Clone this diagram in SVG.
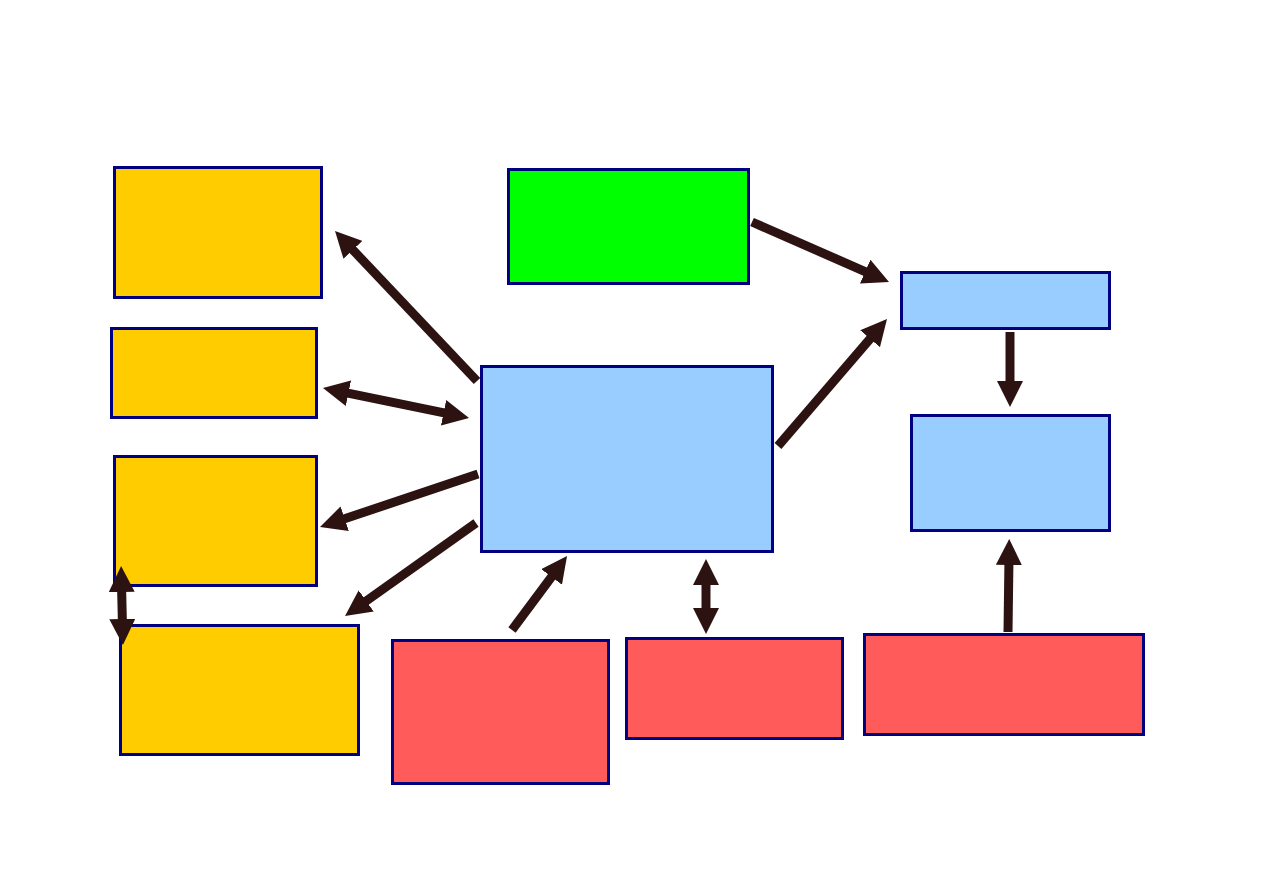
<svg xmlns="http://www.w3.org/2000/svg" width="1263" height="893" viewBox="0 0 1263 893">
<style>
.box{stroke:#000080;stroke-width:3}
.y{fill:#FFCC00}.g{fill:#00FF00}.b{fill:#99CCFF}.r{fill:#FF5B5B}
.c{stroke:#2C1210;stroke-width:9;fill:none;marker-end:url(#ah)}
.d{marker-start:url(#ah)}
</style>
<defs>
<marker id="ah" markerUnits="userSpaceOnUse" markerWidth="26" markerHeight="26" viewBox="0 0 26 26" refX="8" refY="13" orient="auto-start-reverse">
<path d="M0,0 L26,13 L0,26 z" fill="#2C1210"/>
</marker>
</defs>
<rect width="1263" height="893" fill="#fff"/>
<g id="y1"><rect class="box y" x="114.5" y="167.5" width="207" height="130"/></g>
<g id="y2"><rect class="box y" x="111.5" y="328.5" width="205" height="89"/></g>
<g id="y3"><rect class="box y" x="114.5" y="456.5" width="202" height="129"/></g>
<g id="y4"><rect class="box y" x="120.5" y="625.5" width="238" height="129"/></g>
<g id="green"><rect class="box g" x="508.5" y="169.5" width="240" height="114"/></g>
<g id="center"><rect class="box b" x="481.5" y="366.5" width="291" height="185"/></g>
<g id="b1"><rect class="box b" x="901.5" y="272.5" width="208" height="56"/></g>
<g id="b2"><rect class="box b" x="911.5" y="415.5" width="198" height="115"/></g>
<g id="r1"><rect class="box r" x="392.5" y="640.5" width="216" height="143"/></g>
<g id="r2"><rect class="box r" x="626.5" y="638.5" width="216" height="100"/></g>
<g id="r3"><rect class="box r" x="864.5" y="634.5" width="279" height="100"/></g>
<g id="connectors">
<line class="c" x1="477" y1="381" x2="347.4" y2="244.1"/>
<line class="c d" x1="340.6" y1="391.6" x2="451.4" y2="414.4"/>
<line class="c" x1="478" y1="474" x2="337.1" y2="521.3"/>
<line class="c" x1="476" y1="523" x2="359.7" y2="605.6"/>
<line class="c d" x1="121.5" y1="584" x2="122.5" y2="627"/>
<line class="c" x1="752" y1="222" x2="872.5" y2="274.8"/>
<line class="c" x1="778" y1="446" x2="875.3" y2="332.7"/>
<line class="c" x1="1010" y1="332" x2="1010" y2="389"/>
<line class="c" x1="1008" y1="632" x2="1009" y2="557"/>
<line class="c" x1="512" y1="630" x2="556.3" y2="570.5"/>
<line class="c d" x1="706" y1="577" x2="706" y2="616"/>
</g>
</svg>
